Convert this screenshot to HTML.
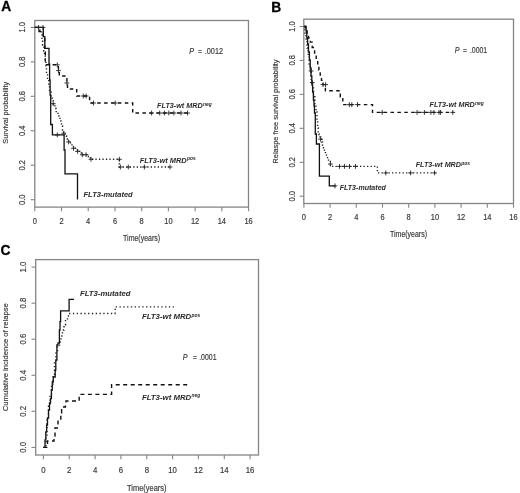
<!DOCTYPE html>
<html><head><meta charset="utf-8"><style>
html,body{margin:0;padding:0;background:#fff;}
svg{display:block;filter:grayscale(1) blur(0.3px);}
text{font-family:"Liberation Sans", sans-serif;}
.t{stroke:#444;stroke-width:0.16px;}
</style></head><body>
<svg width="520" height="493" viewBox="0 0 520 493">
<rect width="520" height="493" fill="#fff"/>
<rect x="34.8" y="20.5" width="213.7" height="186.6" fill="none" stroke="#858585" stroke-width="1.3"/>
<path d="M34.8,207.1V211.3" stroke="#858585" stroke-width="1.1"/>
<text transform="translate(34.8,221.0) scale(1,1.12)" text-anchor="middle" dominant-baseline="central" font-size="7.5" fill="#333" class="t">0</text>
<path d="M61.5,207.1V211.3" stroke="#858585" stroke-width="1.1"/>
<text transform="translate(61.5,221.0) scale(1,1.12)" text-anchor="middle" dominant-baseline="central" font-size="7.5" fill="#333" class="t">2</text>
<path d="M88.2,207.1V211.3" stroke="#858585" stroke-width="1.1"/>
<text transform="translate(88.2,221.0) scale(1,1.12)" text-anchor="middle" dominant-baseline="central" font-size="7.5" fill="#333" class="t">4</text>
<path d="M115.0,207.1V211.3" stroke="#858585" stroke-width="1.1"/>
<text transform="translate(115.0,221.0) scale(1,1.12)" text-anchor="middle" dominant-baseline="central" font-size="7.5" fill="#333" class="t">6</text>
<path d="M141.7,207.1V211.3" stroke="#858585" stroke-width="1.1"/>
<text transform="translate(141.7,221.0) scale(1,1.12)" text-anchor="middle" dominant-baseline="central" font-size="7.5" fill="#333" class="t">8</text>
<path d="M168.4,207.1V211.3" stroke="#858585" stroke-width="1.1"/>
<text transform="translate(168.4,221.0) scale(1,1.12)" text-anchor="middle" dominant-baseline="central" font-size="7.5" fill="#333" class="t">10</text>
<path d="M195.1,207.1V211.3" stroke="#858585" stroke-width="1.1"/>
<text transform="translate(195.1,221.0) scale(1,1.12)" text-anchor="middle" dominant-baseline="central" font-size="7.5" fill="#333" class="t">12</text>
<path d="M221.8,207.1V211.3" stroke="#858585" stroke-width="1.1"/>
<text transform="translate(221.8,221.0) scale(1,1.12)" text-anchor="middle" dominant-baseline="central" font-size="7.5" fill="#333" class="t">14</text>
<path d="M248.6,207.1V211.3" stroke="#858585" stroke-width="1.1"/>
<text transform="translate(248.6,221.0) scale(1,1.12)" text-anchor="middle" dominant-baseline="central" font-size="7.5" fill="#333" class="t">16</text>
<path d="M30.6,199.7H34.8" stroke="#858585" stroke-width="1.1"/>
<text transform="translate(22.8,199.7) rotate(-90) scale(1,1.12)" text-anchor="middle" dominant-baseline="central" font-size="7.5" fill="#333" class="t">0.0</text>
<path d="M30.6,165.2H34.8" stroke="#858585" stroke-width="1.1"/>
<text transform="translate(22.8,165.2) rotate(-90) scale(1,1.12)" text-anchor="middle" dominant-baseline="central" font-size="7.5" fill="#333" class="t">0.2</text>
<path d="M30.6,130.8H34.8" stroke="#858585" stroke-width="1.1"/>
<text transform="translate(22.8,130.8) rotate(-90) scale(1,1.12)" text-anchor="middle" dominant-baseline="central" font-size="7.5" fill="#333" class="t">0.4</text>
<path d="M30.6,96.3H34.8" stroke="#858585" stroke-width="1.1"/>
<text transform="translate(22.8,96.3) rotate(-90) scale(1,1.12)" text-anchor="middle" dominant-baseline="central" font-size="7.5" fill="#333" class="t">0.6</text>
<path d="M30.6,61.9H34.8" stroke="#858585" stroke-width="1.1"/>
<text transform="translate(22.8,61.9) rotate(-90) scale(1,1.12)" text-anchor="middle" dominant-baseline="central" font-size="7.5" fill="#333" class="t">0.8</text>
<path d="M30.6,27.4H34.8" stroke="#858585" stroke-width="1.1"/>
<text transform="translate(22.8,27.4) rotate(-90) scale(1,1.12)" text-anchor="middle" dominant-baseline="central" font-size="7.5" fill="#333" class="t">1.0</text>
<text transform="translate(5.8,112.8) rotate(-90) scale(1,1.08)" text-anchor="middle" dominant-baseline="central" font-size="7.4" fill="#333" class="t" textLength="62" lengthAdjust="spacingAndGlyphs">Survival probability</text>
<text transform="translate(141.6,237.9) scale(1,1.1)" text-anchor="middle" dominant-baseline="central" font-size="7.4" fill="#333" class="t" textLength="37" lengthAdjust="spacingAndGlyphs">Time(years)</text>
<text x="1.2" y="10.6" font-size="13.8" font-weight="bold" fill="#000" stroke="#000" stroke-width="0.28">A</text>
<rect x="303.8" y="19.2" width="209.7" height="184.3" fill="none" stroke="#858585" stroke-width="1.3"/>
<path d="M303.9,203.5V207.7" stroke="#858585" stroke-width="1.1"/>
<text transform="translate(303.9,217.4) scale(1,1.12)" text-anchor="middle" dominant-baseline="central" font-size="7.5" fill="#333" class="t">0</text>
<path d="M330.1,203.5V207.7" stroke="#858585" stroke-width="1.1"/>
<text transform="translate(330.1,217.4) scale(1,1.12)" text-anchor="middle" dominant-baseline="central" font-size="7.5" fill="#333" class="t">2</text>
<path d="M356.3,203.5V207.7" stroke="#858585" stroke-width="1.1"/>
<text transform="translate(356.3,217.4) scale(1,1.12)" text-anchor="middle" dominant-baseline="central" font-size="7.5" fill="#333" class="t">4</text>
<path d="M382.5,203.5V207.7" stroke="#858585" stroke-width="1.1"/>
<text transform="translate(382.5,217.4) scale(1,1.12)" text-anchor="middle" dominant-baseline="central" font-size="7.5" fill="#333" class="t">6</text>
<path d="M408.7,203.5V207.7" stroke="#858585" stroke-width="1.1"/>
<text transform="translate(408.7,217.4) scale(1,1.12)" text-anchor="middle" dominant-baseline="central" font-size="7.5" fill="#333" class="t">8</text>
<path d="M434.9,203.5V207.7" stroke="#858585" stroke-width="1.1"/>
<text transform="translate(434.9,217.4) scale(1,1.12)" text-anchor="middle" dominant-baseline="central" font-size="7.5" fill="#333" class="t">10</text>
<path d="M461.1,203.5V207.7" stroke="#858585" stroke-width="1.1"/>
<text transform="translate(461.1,217.4) scale(1,1.12)" text-anchor="middle" dominant-baseline="central" font-size="7.5" fill="#333" class="t">12</text>
<path d="M487.3,203.5V207.7" stroke="#858585" stroke-width="1.1"/>
<text transform="translate(487.3,217.4) scale(1,1.12)" text-anchor="middle" dominant-baseline="central" font-size="7.5" fill="#333" class="t">14</text>
<path d="M513.5,203.5V207.7" stroke="#858585" stroke-width="1.1"/>
<text transform="translate(513.5,217.4) scale(1,1.12)" text-anchor="middle" dominant-baseline="central" font-size="7.5" fill="#333" class="t">16</text>
<path d="M299.6,196.2H303.8" stroke="#858585" stroke-width="1.1"/>
<text transform="translate(292.0,196.2) rotate(-90) scale(1,1.12)" text-anchor="middle" dominant-baseline="central" font-size="7.5" fill="#333" class="t">0.0</text>
<path d="M299.6,162.3H303.8" stroke="#858585" stroke-width="1.1"/>
<text transform="translate(292.0,162.3) rotate(-90) scale(1,1.12)" text-anchor="middle" dominant-baseline="central" font-size="7.5" fill="#333" class="t">0.2</text>
<path d="M299.6,128.3H303.8" stroke="#858585" stroke-width="1.1"/>
<text transform="translate(292.0,128.3) rotate(-90) scale(1,1.12)" text-anchor="middle" dominant-baseline="central" font-size="7.5" fill="#333" class="t">0.4</text>
<path d="M299.6,94.4H303.8" stroke="#858585" stroke-width="1.1"/>
<text transform="translate(292.0,94.4) rotate(-90) scale(1,1.12)" text-anchor="middle" dominant-baseline="central" font-size="7.5" fill="#333" class="t">0.6</text>
<path d="M299.6,60.4H303.8" stroke="#858585" stroke-width="1.1"/>
<text transform="translate(292.0,60.4) rotate(-90) scale(1,1.12)" text-anchor="middle" dominant-baseline="central" font-size="7.5" fill="#333" class="t">0.8</text>
<path d="M299.6,26.5H303.8" stroke="#858585" stroke-width="1.1"/>
<text transform="translate(292.0,26.5) rotate(-90) scale(1,1.12)" text-anchor="middle" dominant-baseline="central" font-size="7.5" fill="#333" class="t">1.0</text>
<text transform="translate(275.2,111.5) rotate(-90) scale(1,1.08)" text-anchor="middle" dominant-baseline="central" font-size="7.4" fill="#333" class="t" textLength="104" lengthAdjust="spacingAndGlyphs">Relaspe free survival probability</text>
<text transform="translate(408.5,234.7) scale(1,1.1)" text-anchor="middle" dominant-baseline="central" font-size="7.4" fill="#333" class="t" textLength="37" lengthAdjust="spacingAndGlyphs">Time(years)</text>
<text x="271.3" y="12.0" font-size="13.8" font-weight="bold" fill="#000" stroke="#000" stroke-width="0.28">B</text>
<rect x="35.7" y="259.6" width="222.8" height="195.4" fill="none" stroke="#858585" stroke-width="1.3"/>
<path d="M43.4,455V459.2" stroke="#858585" stroke-width="1.1"/>
<text transform="translate(43.4,469.7) scale(1,1.14)" text-anchor="middle" dominant-baseline="central" font-size="7.8" fill="#333" class="t">0</text>
<path d="M69.2,455V459.2" stroke="#858585" stroke-width="1.1"/>
<text transform="translate(69.2,469.7) scale(1,1.14)" text-anchor="middle" dominant-baseline="central" font-size="7.8" fill="#333" class="t">2</text>
<path d="M95.1,455V459.2" stroke="#858585" stroke-width="1.1"/>
<text transform="translate(95.1,469.7) scale(1,1.14)" text-anchor="middle" dominant-baseline="central" font-size="7.8" fill="#333" class="t">4</text>
<path d="M120.9,455V459.2" stroke="#858585" stroke-width="1.1"/>
<text transform="translate(120.9,469.7) scale(1,1.14)" text-anchor="middle" dominant-baseline="central" font-size="7.8" fill="#333" class="t">6</text>
<path d="M146.8,455V459.2" stroke="#858585" stroke-width="1.1"/>
<text transform="translate(146.8,469.7) scale(1,1.14)" text-anchor="middle" dominant-baseline="central" font-size="7.8" fill="#333" class="t">8</text>
<path d="M172.6,455V459.2" stroke="#858585" stroke-width="1.1"/>
<text transform="translate(172.6,469.7) scale(1,1.14)" text-anchor="middle" dominant-baseline="central" font-size="7.8" fill="#333" class="t">10</text>
<path d="M198.4,455V459.2" stroke="#858585" stroke-width="1.1"/>
<text transform="translate(198.4,469.7) scale(1,1.14)" text-anchor="middle" dominant-baseline="central" font-size="7.8" fill="#333" class="t">12</text>
<path d="M224.3,455V459.2" stroke="#858585" stroke-width="1.1"/>
<text transform="translate(224.3,469.7) scale(1,1.14)" text-anchor="middle" dominant-baseline="central" font-size="7.8" fill="#333" class="t">14</text>
<path d="M250.1,455V459.2" stroke="#858585" stroke-width="1.1"/>
<text transform="translate(250.1,469.7) scale(1,1.14)" text-anchor="middle" dominant-baseline="central" font-size="7.8" fill="#333" class="t">16</text>
<path d="M31.5,447.4H35.7" stroke="#858585" stroke-width="1.1"/>
<text transform="translate(23.1,447.4) rotate(-90) scale(1,1.14)" text-anchor="middle" dominant-baseline="central" font-size="7.8" fill="#333" class="t">0.0</text>
<path d="M31.5,411.3H35.7" stroke="#858585" stroke-width="1.1"/>
<text transform="translate(23.1,411.3) rotate(-90) scale(1,1.14)" text-anchor="middle" dominant-baseline="central" font-size="7.8" fill="#333" class="t">0.2</text>
<path d="M31.5,375.3H35.7" stroke="#858585" stroke-width="1.1"/>
<text transform="translate(23.1,375.3) rotate(-90) scale(1,1.14)" text-anchor="middle" dominant-baseline="central" font-size="7.8" fill="#333" class="t">0.4</text>
<path d="M31.5,339.2H35.7" stroke="#858585" stroke-width="1.1"/>
<text transform="translate(23.1,339.2) rotate(-90) scale(1,1.14)" text-anchor="middle" dominant-baseline="central" font-size="7.8" fill="#333" class="t">0.6</text>
<path d="M31.5,303.2H35.7" stroke="#858585" stroke-width="1.1"/>
<text transform="translate(23.1,303.2) rotate(-90) scale(1,1.14)" text-anchor="middle" dominant-baseline="central" font-size="7.8" fill="#333" class="t">0.8</text>
<path d="M31.5,267.1H35.7" stroke="#858585" stroke-width="1.1"/>
<text transform="translate(23.1,267.1) rotate(-90) scale(1,1.14)" text-anchor="middle" dominant-baseline="central" font-size="7.8" fill="#333" class="t">1.0</text>
<text transform="translate(5.0,357.2) rotate(-90) scale(1,1.08)" text-anchor="middle" dominant-baseline="central" font-size="7.4" fill="#333" class="t" textLength="108" lengthAdjust="spacingAndGlyphs">Cumulative incidence of relapse</text>
<text transform="translate(146.8,487.9) scale(1,1.1)" text-anchor="middle" dominant-baseline="central" font-size="7.4" fill="#333" class="t" textLength="39.5" lengthAdjust="spacingAndGlyphs">Time(years)</text>
<text x="0.5" y="254.5" font-size="13.8" font-weight="bold" fill="#000" stroke="#000" stroke-width="0.28">C</text>
<path d="M34.8,27.4H43.3V36.6H44.8V48.3H49V64H49.6V80H50.1V95H50.7V124.5H52.4V134.9H64.1V150H65V173.8H77.5V199.6" stroke="#111" stroke-width="1.3" fill="none"/>
<path d="M54.9,134.9H59.7M57.3,132.5V137.3" stroke="#222" stroke-width="0.9" fill="none"/>
<path d="M34.8,27.4H39V31.5H43.3V36.6H44.8V48.3H45.3V64.8H58.4V70.6H59.3V76H66.9V83H67.5V89H76.7V96H89.6V103H132.7V113H190.1" stroke="#111" stroke-width="1.4" fill="none" stroke-dasharray="3.5,3.4"/>
<path d="M36.2,27.4H41.0M38.6,25.0V29.8" stroke="#222" stroke-width="0.9" fill="none"/>
<path d="M40.6,27.4H45.4M43.0,25.0V29.8" stroke="#222" stroke-width="0.9" fill="none"/>
<path d="M54.9,64.8H59.7M57.3,62.4V67.2" stroke="#222" stroke-width="0.9" fill="none"/>
<path d="M56.1,70.6H60.9M58.5,68.2V73.0" stroke="#222" stroke-width="0.9" fill="none"/>
<path d="M64.5,83.0H69.3M66.9,80.6V85.4" stroke="#222" stroke-width="0.9" fill="none"/>
<path d="M80.9,96.0H85.7M83.3,93.6V98.4" stroke="#222" stroke-width="0.9" fill="none"/>
<path d="M83.7,96.0H88.5M86.1,93.6V98.4" stroke="#222" stroke-width="0.9" fill="none"/>
<path d="M91.1,103.0H95.9M93.5,100.6V105.4" stroke="#222" stroke-width="0.9" fill="none"/>
<path d="M112.8,103.0H117.6M115.2,100.6V105.4" stroke="#222" stroke-width="0.9" fill="none"/>
<path d="M149.2,113.0H154.0M151.6,110.6V115.4" stroke="#222" stroke-width="0.9" fill="none"/>
<path d="M157.3,113.0H162.1M159.7,110.6V115.4" stroke="#222" stroke-width="0.9" fill="none"/>
<path d="M162.0,113.0H166.8M164.4,110.6V115.4" stroke="#222" stroke-width="0.9" fill="none"/>
<path d="M166.4,113.0H171.2M168.8,110.6V115.4" stroke="#222" stroke-width="0.9" fill="none"/>
<path d="M171.5,113.0H176.3M173.9,110.6V115.4" stroke="#222" stroke-width="0.9" fill="none"/>
<path d="M178.6,113.0H183.4M181.0,110.6V115.4" stroke="#222" stroke-width="0.9" fill="none"/>
<path d="M185.1,113.0H189.9M187.5,110.6V115.4" stroke="#222" stroke-width="0.9" fill="none"/>
<path d="M34.8,27.4H38.5V30H41.5V34H42V40H42.6V45H43.8V51H44.5V56H45.3V61H45.9V67H46.5V73H47.5V79H48.7V86H49.5V92H51V98H52V100H53.2V103.7H55V108.5H56.2V111.6H58V116H60V121H61.5V126H62.5V130H63.7V133.2H65V136H66.5V139H68.7V141.9H70.5V144H72V146H73.5V148.3H75.5V150H77.6V151.4H80V153H82.3V154.8H86V154.8H87V156.5H89V158H91V159.3H119.4V167H169.2" stroke="#222" stroke-width="1.4" fill="none" stroke-dasharray="1.3,2.2"/>
<path d="M50.8,103.7H55.6M53.2,101.3V106.1" stroke="#222" stroke-width="0.9" fill="none"/>
<path d="M61.3,133.2H66.1M63.7,130.8V135.6" stroke="#222" stroke-width="0.9" fill="none"/>
<path d="M66.2,141.9H71.0M68.6,139.5V144.3" stroke="#222" stroke-width="0.9" fill="none"/>
<path d="M71.1,148.3H75.9M73.5,145.9V150.7" stroke="#222" stroke-width="0.9" fill="none"/>
<path d="M75.2,151.4H80.0M77.6,149.0V153.8" stroke="#222" stroke-width="0.9" fill="none"/>
<path d="M79.9,154.8H84.7M82.3,152.4V157.2" stroke="#222" stroke-width="0.9" fill="none"/>
<path d="M83.6,154.7H88.4M86.0,152.3V157.1" stroke="#222" stroke-width="0.9" fill="none"/>
<path d="M88.6,159.3H93.4M91.0,156.9V161.7" stroke="#222" stroke-width="0.9" fill="none"/>
<path d="M117.0,159.3H121.8M119.4,156.9V161.7" stroke="#222" stroke-width="0.9" fill="none"/>
<path d="M118.0,167.0H122.8M120.4,164.6V169.4" stroke="#222" stroke-width="0.9" fill="none"/>
<path d="M125.9,167.0H130.7M128.3,164.6V169.4" stroke="#222" stroke-width="0.9" fill="none"/>
<path d="M142.0,167.0H146.8M144.4,164.6V169.4" stroke="#222" stroke-width="0.9" fill="none"/>
<path d="M167.6,167.0H172.4M170.0,164.6V169.4" stroke="#222" stroke-width="0.9" fill="none"/>
<text x="189.3" y="51.1" dominant-baseline="central" font-size="8.4" font-style="italic" fill="#333" class="t" textLength="4.8" lengthAdjust="spacingAndGlyphs">P</text><text x="198.0" y="51.1" dominant-baseline="central" font-size="8.4" fill="#333" class="t" textLength="3.9" lengthAdjust="spacingAndGlyphs">=</text><text x="204.8" y="51.1" dominant-baseline="central" font-size="8.4" fill="#333" class="t" textLength="18.2" lengthAdjust="spacingAndGlyphs">.0012</text>
<text x="157.1" y="105.2" dominant-baseline="central" font-size="7.6" font-weight="bold" font-style="italic" fill="#2a2a2a" textLength="45.6" lengthAdjust="spacingAndGlyphs">FLT3-wt MRD</text><text x="203.0" y="104.0" dominant-baseline="central" font-size="4.9" font-weight="bold" font-style="italic" fill="#2a2a2a">neg</text>
<text x="139.7" y="160.1" dominant-baseline="central" font-size="7.6" font-weight="bold" font-style="italic" fill="#2a2a2a" textLength="47" lengthAdjust="spacingAndGlyphs">FLT3-wt MRD</text><text x="187.0" y="158.9" dominant-baseline="central" font-size="4.9" font-weight="bold" font-style="italic" fill="#2a2a2a">pos</text>
<text x="83.5" y="194.4" dominant-baseline="central" font-size="7.6" font-weight="bold" font-style="italic" fill="#2a2a2a" textLength="49.2" lengthAdjust="spacingAndGlyphs">FLT3-mutated</text>
<path d="M303.9,26.5H306.1V31H306.8V38H307.6V44H308.5V52H309.4V60H310.2V68H311V76H311.8V84H312.6V92H313.4V100H314V106H314.5V113H315.3V134H316.4V144H319.4V176.1H329.3V185.9H335.4" stroke="#111" stroke-width="1.3" fill="none"/>
<path d="M332.6,185.9H337.4M335.0,183.5V188.3" stroke="#222" stroke-width="0.9" fill="none"/>
<path d="M303.9,26.5H305.5V30H307V34H308.5V38H310.3V42.1H312.2V47.5H314.6V53H316.2V60H317.7V64.6H318.9V70H320.2V75H321.5V80.4H323V84.6H325.4V90.8H340.3V97H342.8V104.6H372.5V112.4H453.6" stroke="#111" stroke-width="1.4" fill="none" stroke-dasharray="3.5,3.4"/>
<path d="M320.6,84.6H325.4M323.0,82.2V87.0" stroke="#222" stroke-width="0.9" fill="none"/>
<path d="M323.2,84.6H328.0M325.6,82.2V87.0" stroke="#222" stroke-width="0.9" fill="none"/>
<path d="M346.9,104.6H351.7M349.3,102.2V107.0" stroke="#222" stroke-width="0.9" fill="none"/>
<path d="M349.4,104.6H354.2M351.8,102.2V107.0" stroke="#222" stroke-width="0.9" fill="none"/>
<path d="M355.1,104.6H359.9M357.5,102.2V107.0" stroke="#222" stroke-width="0.9" fill="none"/>
<path d="M379.8,112.4H384.6M382.2,110.0V114.8" stroke="#222" stroke-width="0.9" fill="none"/>
<path d="M414.7,112.4H419.5M417.1,110.0V114.8" stroke="#222" stroke-width="0.9" fill="none"/>
<path d="M422.0,112.4H426.8M424.4,110.0V114.8" stroke="#222" stroke-width="0.9" fill="none"/>
<path d="M428.5,112.4H433.3M430.9,110.0V114.8" stroke="#222" stroke-width="0.9" fill="none"/>
<path d="M431.5,112.4H436.3M433.9,110.0V114.8" stroke="#222" stroke-width="0.9" fill="none"/>
<path d="M436.6,112.4H441.4M439.0,110.0V114.8" stroke="#222" stroke-width="0.9" fill="none"/>
<path d="M438.1,112.4H442.9M440.5,110.0V114.8" stroke="#222" stroke-width="0.9" fill="none"/>
<path d="M450.4,112.4H455.2M452.8,110.0V114.8" stroke="#222" stroke-width="0.9" fill="none"/>
<path d="M303.9,26.5H305V33H306V40H307V48H308.2V56H309.2V64H310.2V72H311.2V80H312.2V88H313.5V96H314.8V104H316V112H317V120H317.6V128H318.2V134H319V137H320.6V139.2H321.5V142H322.5V145H323.5V148H324.5V151H325.5V154H326.5V156.5H327.5V159H328.5V161.5H330.4V164V166.4H377.4V172.9H435.3" stroke="#222" stroke-width="1.4" fill="none" stroke-dasharray="1.3,2.2"/>
<path d="M308.7,71.0H313.5M311.1,68.6V73.4" stroke="#222" stroke-width="0.9" fill="none"/>
<path d="M309.9,82.5H314.7M312.3,80.1V84.9" stroke="#222" stroke-width="0.9" fill="none"/>
<path d="M318.2,139.2H323.0M320.6,136.8V141.6" stroke="#222" stroke-width="0.9" fill="none"/>
<path d="M328.0,164.0H332.8M330.4,161.6V166.4" stroke="#222" stroke-width="0.9" fill="none"/>
<path d="M337.1,166.4H341.9M339.5,164.0V168.8" stroke="#222" stroke-width="0.9" fill="none"/>
<path d="M342.1,166.4H346.9M344.5,164.0V168.8" stroke="#222" stroke-width="0.9" fill="none"/>
<path d="M347.1,166.4H351.9M349.5,164.0V168.8" stroke="#222" stroke-width="0.9" fill="none"/>
<path d="M353.1,166.4H357.9M355.5,164.0V168.8" stroke="#222" stroke-width="0.9" fill="none"/>
<path d="M383.4,172.9H388.2M385.8,170.5V175.3" stroke="#222" stroke-width="0.9" fill="none"/>
<path d="M408.2,172.9H413.0M410.6,170.5V175.3" stroke="#222" stroke-width="0.9" fill="none"/>
<path d="M432.2,172.9H437.0M434.6,170.5V175.3" stroke="#222" stroke-width="0.9" fill="none"/>
<text x="454.8" y="50" dominant-baseline="central" font-size="8.4" font-style="italic" fill="#333" class="t" textLength="4.8" lengthAdjust="spacingAndGlyphs">P</text><text x="463.0" y="50" dominant-baseline="central" font-size="8.4" fill="#333" class="t" textLength="3.9" lengthAdjust="spacingAndGlyphs">=</text><text x="469.9" y="50" dominant-baseline="central" font-size="8.4" fill="#333" class="t" textLength="17.3" lengthAdjust="spacingAndGlyphs">.0001</text>
<text x="429.5" y="104.4" dominant-baseline="central" font-size="7.6" font-weight="bold" font-style="italic" fill="#2a2a2a" textLength="45.3" lengthAdjust="spacingAndGlyphs">FLT3-wt MRD</text><text x="475.1" y="103.2" dominant-baseline="central" font-size="4.9" font-weight="bold" font-style="italic" fill="#2a2a2a">neg</text>
<text x="415.7" y="164.9" dominant-baseline="central" font-size="7.6" font-weight="bold" font-style="italic" fill="#2a2a2a" textLength="45.3" lengthAdjust="spacingAndGlyphs">FLT3-wt MRD</text><text x="461.3" y="163.7" dominant-baseline="central" font-size="4.9" font-weight="bold" font-style="italic" fill="#2a2a2a">pos</text>
<text x="339.7" y="187.8" dominant-baseline="central" font-size="7.6" font-weight="bold" font-style="italic" fill="#2a2a2a" textLength="46.2" lengthAdjust="spacingAndGlyphs">FLT3-mutated</text>
<path d="M43.4,447.4H45V440H45.8V432H46.6V425H47.5V418H48.5V410H49.5V403H50.5V398.5H51.4V390H52.3V382H53.3V377H55.2V370H55.8V360H56.9V345H58V343H59.4V330H60V321.7H60.6V310.8H69.1V299.4H74" stroke="#111" stroke-width="1.3" fill="none"/>
<path d="M43.4,447.4H46V435H47V420H48.5V405H50V395H51.5V385H53V375H54.5V362H56V352H57.5V346H59.5V342H61V336H62.5V330H64V325H65.5V320H67.5V316H69.1V313.5H115.1V306.9H173.9" stroke="#222" stroke-width="1.4" fill="none" stroke-dasharray="1.3,2.5"/>
<path d="M43.4,447.4H47.5V441H54V436H55V428H58V420H60.8V413H61.6V407H65.4V404H66V401H79.2V394.4H111.6V384.7H189.7" stroke="#111" stroke-width="1.4" fill="none" stroke-dasharray="4,3.5"/>
<text x="182.8" y="357.4" dominant-baseline="central" font-size="8.4" font-style="italic" fill="#333" class="t" textLength="4.8" lengthAdjust="spacingAndGlyphs">P</text><text x="193.1" y="357.4" dominant-baseline="central" font-size="8.4" fill="#333" class="t" textLength="3.9" lengthAdjust="spacingAndGlyphs">=</text><text x="199.2" y="357.4" dominant-baseline="central" font-size="8.4" fill="#333" class="t" textLength="17.3" lengthAdjust="spacingAndGlyphs">.0001</text>
<text x="80" y="293.6" dominant-baseline="central" font-size="7.9" font-weight="bold" font-style="italic" fill="#2a2a2a" textLength="50.5" lengthAdjust="spacingAndGlyphs">FLT3-mutated</text>
<text x="141.9" y="316.6" dominant-baseline="central" font-size="7.9" font-weight="bold" font-style="italic" fill="#2a2a2a" textLength="49.3" lengthAdjust="spacingAndGlyphs">FLT3-wt MRD</text><text x="191.5" y="315.4" dominant-baseline="central" font-size="4.9" font-weight="bold" font-style="italic" fill="#2a2a2a">pos</text>
<text x="141.9" y="397.1" dominant-baseline="central" font-size="7.9" font-weight="bold" font-style="italic" fill="#2a2a2a" textLength="49.3" lengthAdjust="spacingAndGlyphs">FLT3-wt MRD</text><text x="191.5" y="395.9" dominant-baseline="central" font-size="4.9" font-weight="bold" font-style="italic" fill="#2a2a2a">neg</text>
</svg>
</body></html>
